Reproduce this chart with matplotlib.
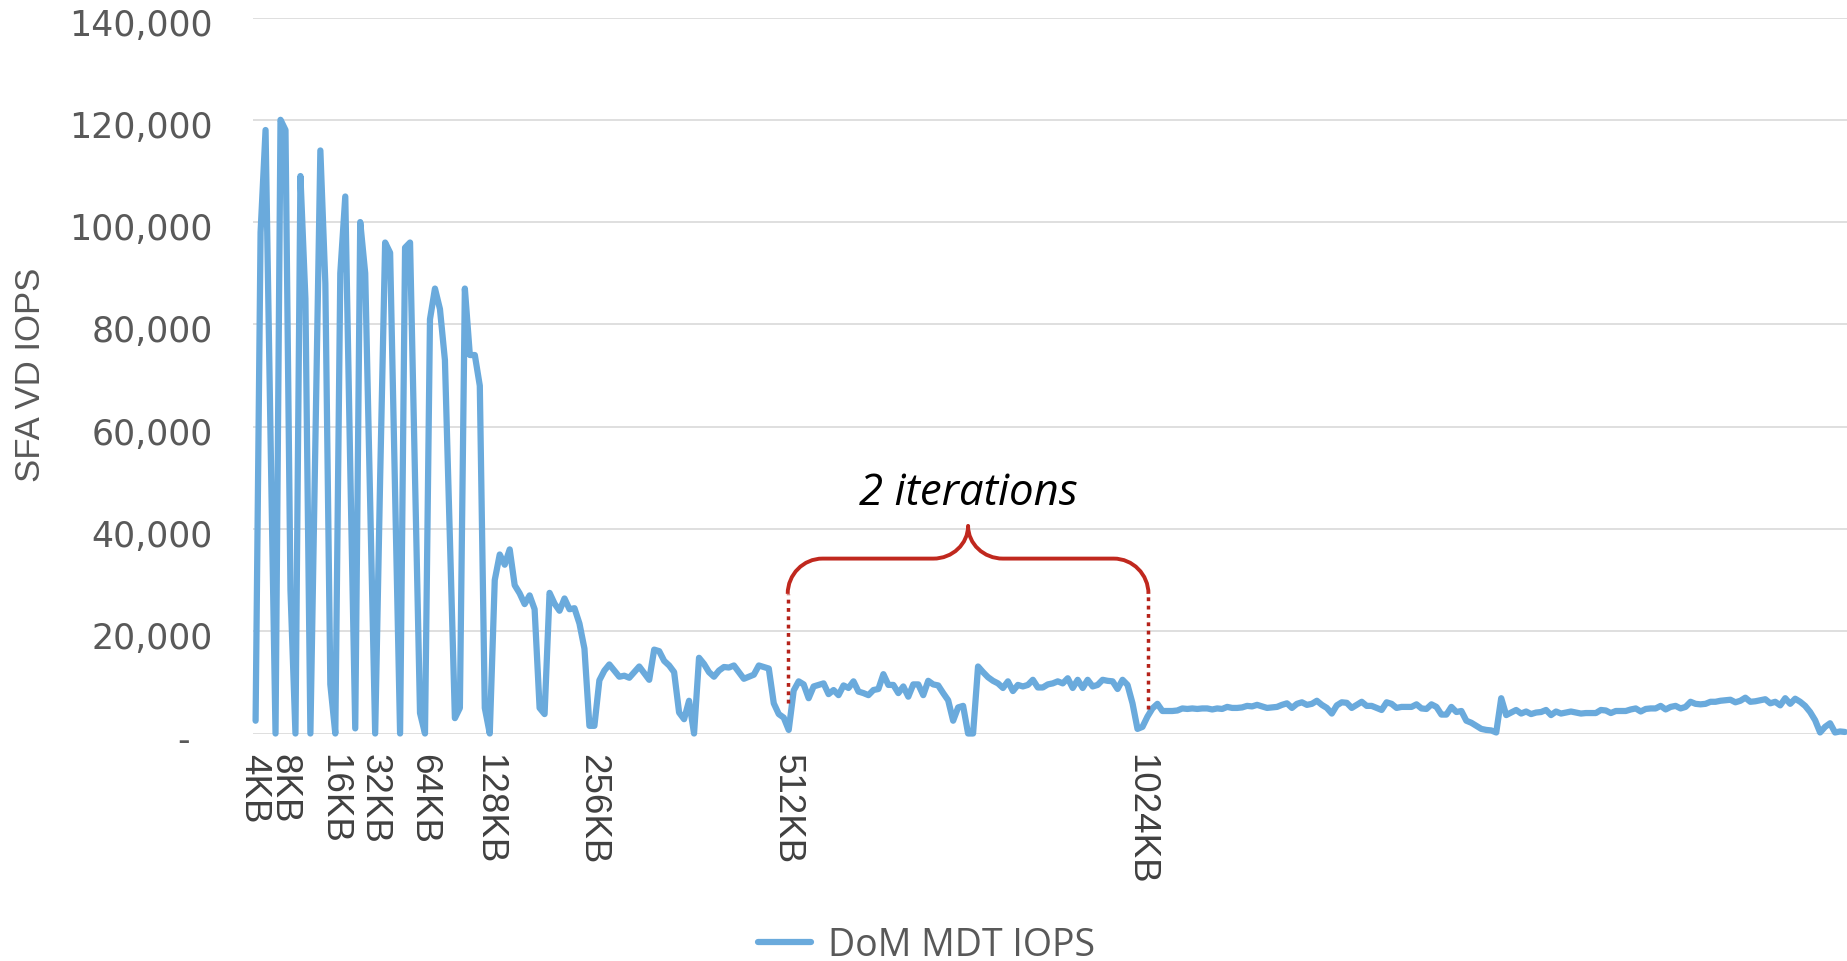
import matplotlib
matplotlib.use('Agg')
import matplotlib.pyplot as plt
from matplotlib.path import Path
from matplotlib.patches import PathPatch
from matplotlib.ticker import FuncFormatter, FixedLocator
from matplotlib.lines import Line2D
import matplotlib.transforms as mtransforms

# ---------------- data (IOPS in thousands, one sample per category) ----------------
iops_thousands = [
    2.5, 98, 118, 58, 0, 120, 118, 28, 0, 109,
    85, 0, 57, 114, 88, 9.6, 0, 90, 105, 52,
    1, 100, 90, 45, 0, 50, 96, 94, 47, 0,
    95, 96, 50, 4, 0, 81, 87, 83, 73, 38,
    3, 5, 87, 74, 74, 68, 5, 0, 30, 35,
    33, 36, 29, 27.4, 25.3, 27, 24.3, 5, 3.8, 27.5,
    25.4, 24, 26.4, 24.3, 24.5, 21.5, 16.6, 1.5, 1.5, 10.4,
    12.3, 13.5, 12.3, 11.1, 11.3, 10.9, 12, 13.1, 11.8, 10.5,
    16.4, 16.1, 14.2, 13.3, 12, 4.1, 2.8, 6.4, 0, 14.8,
    13.6, 12, 11.1, 12.3, 13, 12.9, 13.3, 12, 10.7, 11.1,
    11.5, 13.3, 13, 12.7, 5.9, 3.8, 3.1, 0.7, 8.4, 10.2,
    9.6, 6.9, 9.2, 9.5, 9.8, 7.7, 8.5, 7.5, 9.4, 8.9,
    10.2, 8.2, 7.9, 7.5, 8.5, 8.7, 11.6, 9.5, 9.5, 7.9,
    9.2, 7.2, 9.6, 9.6, 7.5, 10.3, 9.6, 9.4, 7.9, 6.5,
    2.5, 5.1, 5.4, 0, 0, 13.1, 12, 11, 10.3, 9.8,
    8.9, 10.2, 8.3, 9.5, 9.2, 9.5, 10.5, 9, 9, 9.6,
    9.8, 10.2, 9.8, 10.8, 8.9, 10.5, 8.9, 10.5, 9.2, 9.5,
    10.5, 10.3, 10.2, 8.7, 10.5, 9.5, 5.9, 0.9, 1.3, 3.3,
    4.9, 5.8, 4.4, 4.4, 4.4, 4.5, 4.9, 4.8, 4.9, 4.8,
    4.9, 4.9, 4.7, 4.9, 4.8, 5.2, 5, 5, 5.1, 5.4,
    5.3, 5.6, 5.3, 5, 5.1, 5.2, 5.6, 5.9, 5, 5.8,
    6.1, 5.6, 5.8, 6.4, 5.6, 5, 3.9, 5.5, 6.1, 6,
    5, 5.6, 6.2, 5.4, 5.4, 5, 4.6, 6.1, 5.8, 5,
    5.2, 5.2, 5.2, 5.7, 4.9, 4.8, 5.7, 5.2, 3.7, 3.7,
    5.2, 4.2, 4.4, 2.5, 2.1, 1.5, 0.9, 0.7, 0.6, 0.2,
    6.9, 3.6, 4.1, 4.6, 3.9, 4.3, 3.8, 4.1, 4.2, 4.6,
    3.6, 4.3, 3.9, 4.1, 4.3, 4.1, 3.9, 4, 4, 4,
    4.6, 4.5, 4, 4.4, 4.4, 4.4, 4.7, 4.9, 4.3, 4.8,
    4.9, 4.9, 5.4, 4.7, 5.2, 5.4, 4.9, 5.2, 6.2, 5.8,
    5.7, 5.8, 6.2, 6.2, 6.4, 6.5, 6.6, 6.1, 6.4, 7,
    6.2, 6.3, 6.5, 6.7, 5.9, 6.2, 5.5, 6.9, 5.8, 6.8,
    6.2, 5.4, 4.2, 2.6, 0.2, 1.3, 2, 0.2, 0.4, 0.3,
]
iops = [v * 1000 for v in iops_thousands]
sample_index = list(range(len(iops)))

block_sizes = ['4KB', '8KB', '16KB', '32KB', '64KB', '128KB', '256KB', '512KB', '1024KB']
block_start_index = [0, 6, 16, 24, 34, 47, 68, 107, 178]

y_ticks = [0, 20000, 40000, 60000, 80000, 100000, 120000, 140000]

series_name = 'DoM MDT IOPS'
y_title = 'SFA VD IOPS'
note_text = '2 iterations'

# ---------------- styling ----------------
LINE_COLOR = '#6AAADC'
GRID_COLOR = '#D9D9D9'
TEXT_GRAY = '#595959'
XLAB_COLOR = '#404040'
RED = '#C0281E'
NARROW = ['Liberation Sans', 'DejaVu Sans']
LINE_W = 4.5

W, H, DPI = 1847, 962, 100
fig = plt.figure(figsize=(W / DPI, H / DPI), dpi=DPI)
fig.patch.set_facecolor('white')

ax_left = 253 / W
ax_bottom = 1 - 734.5 / H
ax_top = 1 - 18.5 / H
ax = fig.add_axes([ax_left, ax_bottom, 1 - ax_left, ax_top - ax_bottom])

ax.plot(sample_index, iops, color=LINE_COLOR, lw=LINE_W, solid_joinstyle='round',
        solid_capstyle='round', clip_on=False, zorder=3)

ax.set_xlim(-0.52, len(iops) - 1 + 0.4)
ax.set_ylim(0, 140000)

for s in ax.spines.values():
    s.set_visible(False)

ax.yaxis.set_major_locator(FixedLocator(y_ticks))
ax.yaxis.set_major_formatter(FuncFormatter(lambda v, p: '-  ' if v == 0 else f'{v:,.0f}'))
ax.grid(axis='y', color=GRID_COLOR, lw=1.2, zorder=0)
ax.grid(axis='x', visible=False)
ax.tick_params(axis='y', length=0, pad=29, labelsize=25, labelcolor=TEXT_GRAY)
yshift = mtransforms.ScaledTranslation(0, -3.5 / DPI, fig.dpi_scale_trans)
for t in ax.get_yticklabels():
    t.set_family('DejaVu Sans')
    t.set_transform(t.get_transform() + yshift)

ax.set_xticks(block_start_index)
ax.set_xticklabels(block_sizes, rotation=270, family=NARROW,
                   fontsize=26.5, color=XLAB_COLOR)
ax.tick_params(axis='x', length=0, pad=14)
xshift = mtransforms.ScaledTranslation(-1.5 / DPI, 0, fig.dpi_scale_trans)
for t in ax.get_xticklabels():
    t.set_transform(t.get_transform() + xshift)

fig.text(30.5 / W, 1 - 375 / H, y_title, rotation=90, ha='center', va='center',
         fontsize=25, color=TEXT_GRAY, family=NARROW)

# ---------------- annotation: brace over the 512KB block ----------------
xl, xr = 106.8, 179.2
xc = (xl + xr) / 2
y_h, ry, rx = 34200, 6900, 7.0
ry_c = 6400
k = 0.5523
verts = [
    (xl, y_h - ry),
    (xl, y_h - ry + k * ry), (xl + rx - k * rx, y_h), (xl + rx, y_h),
    (xc - rx, y_h),
    (xc - rx + k * rx, y_h), (xc, y_h + ry_c - k * ry_c), (xc, y_h + ry_c),
    (xc, y_h + ry_c - k * ry_c), (xc + rx - k * rx, y_h), (xc + rx, y_h),
    (xr - rx, y_h),
    (xr - rx + k * rx, y_h), (xr, y_h - ry + k * ry), (xr, y_h - ry),
]
codes = [Path.MOVETO,
         Path.CURVE4, Path.CURVE4, Path.CURVE4,
         Path.LINETO,
         Path.CURVE4, Path.CURVE4, Path.CURVE4,
         Path.CURVE4, Path.CURVE4, Path.CURVE4,
         Path.LINETO,
         Path.CURVE4, Path.CURVE4, Path.CURVE4]
ax.add_patch(PathPatch(Path(verts, codes), fill=False, edgecolor=RED, lw=2.8,
                       capstyle='butt', joinstyle='round', zorder=4, clip_on=False))
ax.plot([xl, xl], [6000, y_h - ry], color='#B5221A', lw=2.5, ls=(0, (1.1, 1.3)), zorder=4)
ax.plot([xr, xr], [4800, y_h - ry], color='#B5221A', lw=2.5, ls=(0, (1.1, 1.3)), zorder=4)

ax.text(xc, 47100, note_text, ha='center', va='center', fontsize=31.5, style='italic',
        family=['Open Sans', 'DejaVu Sans'], color='black')

# ---------------- legend ----------------
handle = Line2D([0], [0], color=LINE_COLOR, lw=LINE_W, solid_capstyle='round')
leg = fig.legend([handle], [series_name], loc='center', bbox_to_anchor=(926.5 / W, 1 - 946 / H),
                 frameon=False, handlelength=1.4, handletextpad=0.45,
                 prop={'family': ['Open Sans', 'DejaVu Sans'], 'size': 27})
for t in leg.get_texts():
    t.set_color(TEXT_GRAY)

fig.savefig('out.png', dpi=DPI, facecolor='white')
